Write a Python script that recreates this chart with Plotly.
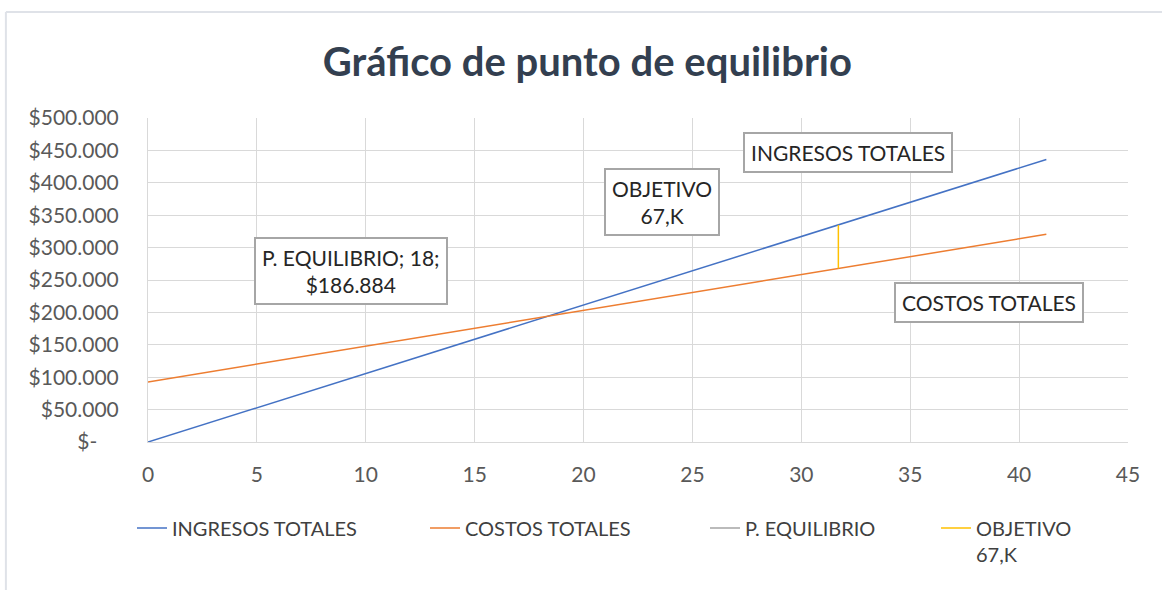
import plotly.graph_objects as go

# Data
x_line = [0, 41.25]
ingresos = [0, 436000]
costos = [92600, 320500]
pe_x = [18]
pe_y = [186884]
obj_x = [31.7, 31.7]
obj_y = [268000, 335000]

FONT = "Lato"
L, T, PW, PH = 148, 118, 980, 324

fig = go.Figure()
fig.add_trace(go.Scatter(x=x_line, y=ingresos, mode="lines", name="INGRESOS TOTALES",
                         line=dict(color="#4472C4", width=1.5), legend="legend"))
fig.add_trace(go.Scatter(x=x_line, y=costos, mode="lines", name="COSTOS TOTALES",
                         line=dict(color="#ED7D31", width=1.5), legend="legend2"))
fig.add_trace(go.Scatter(x=pe_x, y=pe_y, mode="lines", name="P. EQUILIBRIO",
                         line=dict(color="#A5A5A5", width=1.5), legend="legend3"))
fig.add_trace(go.Scatter(x=obj_x, y=obj_y, mode="lines", name="OBJETIVO<br>67,K",
                         line=dict(color="#FFC000", width=1.5), legend="legend4"))

def box(x, y, text):
    fig.add_annotation(x=x, y=y, xref="x", yref="y", text=text, showarrow=False,
                       font=dict(family=FONT, size=21, color="#262626"),
                       bordercolor="#A6A6A6", borderwidth=2, borderpad=6,
                       bgcolor="white", align="center")

box(9.3, 264000, "P. EQUILIBRIO; 18;<br>$186.884")
box(23.58, 370000, "OBJETIVO<br>67,K")
box(32.14, 446000, "INGRESOS TOTALES")
box(38.6, 216000, "COSTOS TOTALES")

# chart border (top & left visible)
fig.add_shape(type="line", xref="paper", yref="paper", x0=-0.145, x1=1.1, y0=1.327, y1=1.327,
              line=dict(color="#DFE2E8", width=2))
fig.add_shape(type="line", xref="paper", yref="paper", x0=-0.145, x1=-0.145, y0=1.327, y1=-0.5,
              line=dict(color="#DFE2E8", width=2))

def legx(px):
    return (px - L) / PW

leg_common = dict(orientation="h", yanchor="top", y=-0.205,
                  font=dict(family=FONT, size=20, color="#404040"),
                  bgcolor="rgba(0,0,0,0)", xanchor="left")

fig.update_layout(
    width=1162, height=590,
    margin=dict(l=L, r=1162 - L - PW, t=T, b=590 - T - PH),
    paper_bgcolor="white", plot_bgcolor="white",
    font=dict(family=FONT, color="#404040"),
    title=dict(text="<b>Gráfico de punto de equilibrio</b>", x=0.5055, xanchor="center",
               y=1 - 62 / 590, yanchor="middle",
               font=dict(family=FONT, size=40, color="#333F50")),
    xaxis=dict(range=[0, 45], dtick=5, showgrid=True, gridcolor="#D9D9D9", gridwidth=1,
               zeroline=False, showline=True, linecolor="#D9D9D9",
               ticks="", ticklabelstandoff=14,
               tickfont=dict(family=FONT, size=21, color="#595959"), fixedrange=True),
    yaxis=dict(range=[0, 500000], showgrid=True, gridcolor="#D9D9D9", gridwidth=1,
               zeroline=False, showline=True, linecolor="#D9D9D9", ticks="",
               ticklabelstandoff=24,
               tickmode="array",
               tickvals=[0, 50000, 100000, 150000, 200000, 250000, 300000, 350000, 400000, 450000, 500000],
               ticktext=["$-    ", "$50.000", "$100.000", "$150.000", "$200.000", "$250.000",
                         "$300.000", "$350.000", "$400.000", "$450.000", "$500.000"],
               tickfont=dict(family=FONT, size=21, color="#595959"), fixedrange=True),
    legend=dict(x=legx(132), **leg_common),
    legend2=dict(x=legx(425), **leg_common),
    legend3=dict(x=legx(705), **leg_common),
    legend4=dict(x=legx(936), valign="top", **leg_common),
    showlegend=True,
)

fig.write_html("out.html", post_script="document.body.style.margin='0';",
               config={"displayModeBar": False})
